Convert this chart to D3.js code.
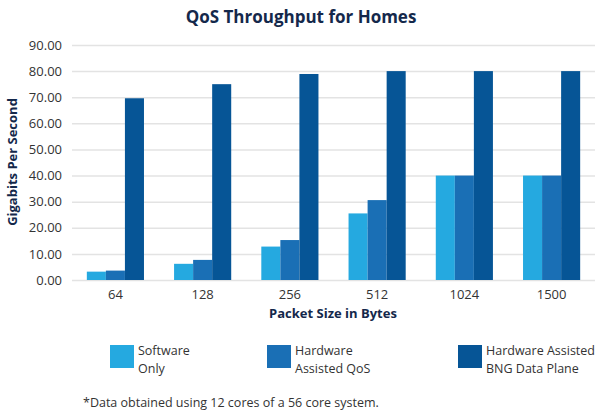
<!DOCTYPE html>
<html><head><meta charset="utf-8">
<script src="https://cdn.jsdelivr.net/npm/d3@7"></script>
<style>body{margin:0;background:#fff;} text{font-family:"Open Sans",sans-serif;}</style>
</head><body><svg id="c" width="602" height="413"></svg>
<script>
const categories = ["64","128","256","512","1024","1500"];
const seriesNames = [["Software","Only"],["Hardware","Assisted QoS"],["Hardware Assisted","BNG Data Plane"]];
const softwareOnly = [3.2, 6.2, 12.8, 25.5, 40, 40];
const hwQoS = [3.6, 7.7, 15.3, 30.6, 40, 40];
const hwBNG = [69.6, 75.0, 78.9, 80, 80, 80];
const yTicks = [0,10,20,30,40,50,60,70,80,90];
const colors = ["#25a9e0","#1a6fb5","#065596"];
const series = [softwareOnly, hwQoS, hwBNG];

const svg = d3.select("#c");
const x = d3.scaleBand().domain(categories).range([72,595]).paddingInner(0.345).paddingOuter(0.17);
const xs = d3.scaleBand().domain([0,1,2]).range([0, x.bandwidth()]);
const y = d3.scaleLinear().domain([0,90]).range([280,45]);

svg.append("text").attr("x",301).attr("y",23).attr("text-anchor","middle")
  .attr("font-size",17).attr("font-weight","bold").attr("fill","#14284b").text("QoS Throughput for Homes");

const ga = svg.append("g").attr("transform","translate(72,0)")
  .call(d3.axisLeft(y).tickValues(yTicks).tickFormat(d3.format(".2f")).tickSize(-523).tickPadding(10));
ga.select(".domain").remove();
ga.selectAll(".tick line").attr("stroke","#e3e3e3").attr("stroke-width",1.5);
ga.selectAll(".tick text").attr("font-size",13).attr("fill","#333").attr("font-family","'Open Sans',sans-serif");

const g = svg.append("g");
categories.forEach((c,i)=>{
  series.forEach((s,k)=>{
    g.append("rect").attr("x",x(c)+xs(k)).attr("width",xs.bandwidth())
      .attr("y",y(s[i])).attr("height",y(0)-y(s[i])).attr("fill",colors[k]);
  });
});

const gx = svg.append("g").attr("transform","translate(0,280)")
  .call(d3.axisBottom(x).tickSize(0).tickPadding(10));
gx.select(".domain").remove();
gx.selectAll(".tick text").attr("font-size",13).attr("fill","#333").attr("font-family","'Open Sans',sans-serif");

svg.append("text").attr("x",333).attr("y",318).attr("text-anchor","middle")
  .attr("font-size",13).attr("font-weight","bold").attr("fill","#14284b").text("Packet Size in Bytes");
svg.append("text").attr("transform","translate(17,162) rotate(-90)").attr("text-anchor","middle")
  .attr("font-size",13).attr("font-weight","bold").attr("fill","#14284b").text("Gigabits Per Second");

const lx = [110, 267, 458];
seriesNames.forEach((n,k)=>{
  svg.append("rect").attr("x",lx[k]).attr("y",345).attr("width",24).attr("height",23).attr("fill",colors[k]);
  n.forEach((line,j)=>svg.append("text").attr("x",lx[k]+28).attr("y",355+j*17.5)
    .attr("font-size",12.5).attr("fill","#333").text(line));
});

svg.append("text").attr("x",83).attr("y",407).attr("font-size",12.5).attr("fill","#333")
  .text("*Data obtained using 12 cores of a 56 core system.");
</script></body></html>
